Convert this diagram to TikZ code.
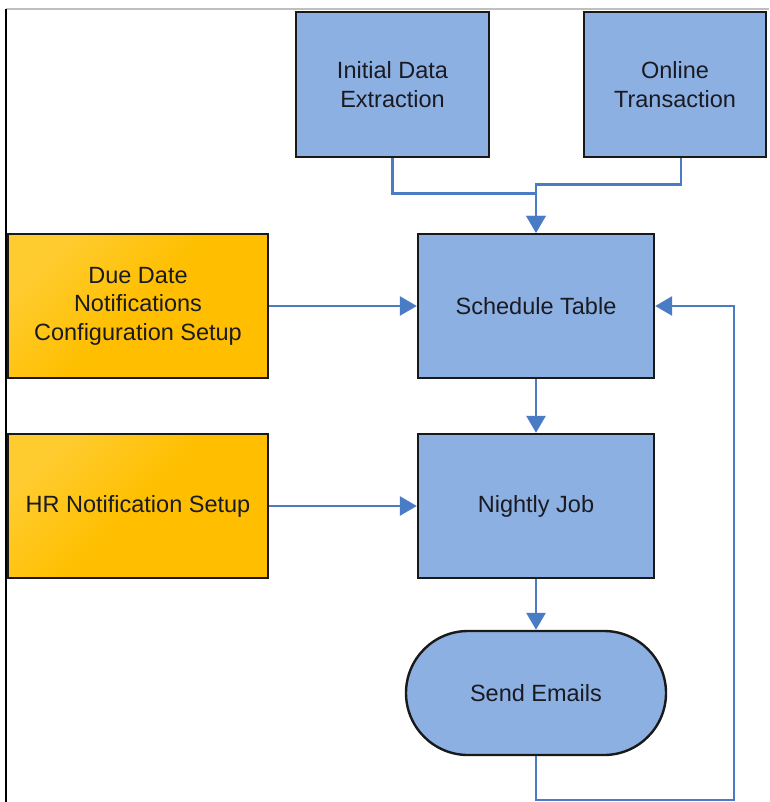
\documentclass[tikz,border=0pt]{standalone}
\usepackage{fontspec}
\setmainfont{Liberation Sans}
\usetikzlibrary{arrows.meta}
\definecolor{boxblue}{HTML}{8DB0E2}
\definecolor{lineblue}{HTML}{4A7CC6}
\definecolor{orL}{HTML}{FFCC30}
\definecolor{orD}{HTML}{FFBF00}
\definecolor{txt}{HTML}{1A1A22}
\tikzset{
  base/.style={draw=black!90, line width=2.4pt, text=txt, align=center,
    font=\fontsize{23.5}{28.5}\selectfont, inner sep=0pt},
  bluebox/.style={base, fill=boxblue},
  orangebox/.style={base, top color=orL, bottom color=orD, middle color=orD, shading angle=45},
  conn/.style={draw=lineblue, line width=2.8pt},
  arr/.style={conn, -{Triangle[length=17pt,width=19pt]}},
}
\begin{document}
\begin{tikzpicture}[x=1pt,y=-1pt]
\useasboundingbox (0,0) rectangle (769,802);
\fill[white] (0,0) rectangle (769,802);
\coordinate (tl) at (6,9);
\coordinate (tr) at (769,9);
\coordinate (bl) at (6,802);
\draw[black!25, line width=1.2pt] (tl) -- (tr);
\draw[black, line width=1.8pt] (tl) -- (bl);

\node[bluebox, minimum width=193pt, minimum height=145pt] (ide) at (392.5,84.5) {Initial Data\\Extraction};
\node[bluebox, minimum width=182pt, minimum height=145pt] (ot) at (675,84.5) {Online\\Transaction};
\node[orangebox, minimum width=260pt, minimum height=144pt] (dd) at (138,306) {Due Date\\Notifications\\Configuration Setup};
\node[bluebox, minimum width=236pt, minimum height=144pt] (st) at (536,306) {Schedule Table};
\node[orangebox, minimum width=260pt, minimum height=144pt] (hr) at (138,506) {HR Notification Setup};
\node[bluebox, minimum width=236pt, minimum height=144pt] (nj) at (536,506) {Nightly Job};
\node[bluebox, minimum width=260pt, minimum height=124pt, rounded corners=62pt] (se) at (536,693) {Send Emails};

\coordinate (ots) at ([xshift=6pt]ot.south);
\coordinate (fbb) at (734,800);
\coordinate (fbt) at (734,306);

\draw[arr] (ide.south) -- ++(0,35) -| (st.north);
\draw[arr] (ots) -- ++(0,26) -| (st.north);
\draw[arr] (dd.east) -- (st.west);
\draw[arr] (hr.east) -- (nj.west);
\draw[arr] (st.south) -- (nj.north);
\draw[arr] (nj.south) -- (se.north);
\draw[arr] (se.south) |- (fbb) -- (fbt) -- (st.east);
\end{tikzpicture}
\end{document}
